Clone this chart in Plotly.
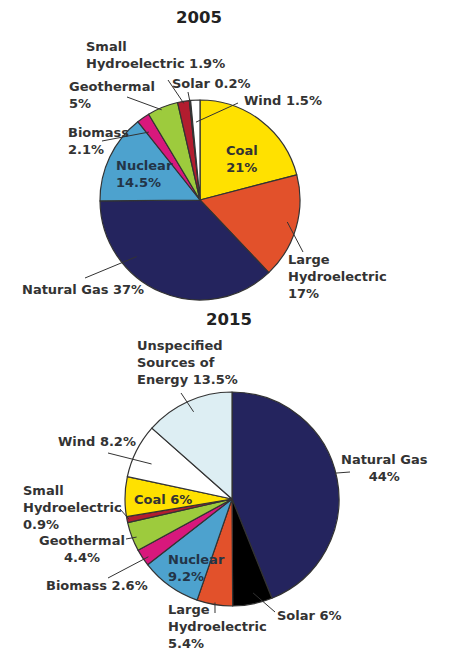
import math
import plotly.graph_objects as go

W, H = 450, 664
OFF = 8  # page body margin pushes the figure 8px right/down

# 2005 mix
labels_2005 = ["Coal", "Large Hydroelectric", "Natural Gas", "Nuclear", "Biomass",
               "Geothermal", "Small Hydroelectric", "Solar", "Wind"]
values_2005 = [21, 17, 37, 14.5, 2.1, 5, 1.9, 0.2, 1.5]

# 2015 mix
labels_2015 = ["Natural Gas", "Solar", "Large Hydroelectric", "Nuclear", "Biomass",
               "Geothermal", "Small Hydroelectric", "Coal", "Wind",
               "Unspecified Sources of Energy"]
values_2015 = [44, 6, 5.4, 9.2, 2.6, 4.4, 0.9, 6, 8.2, 13.5]

colors = {
    "Coal": "#FFE100",
    "Large Hydroelectric": "#E2512B",
    "Natural Gas": "#24245E",
    "Nuclear": "#4DA2CE",
    "Biomass": "#D8187C",
    "Geothermal": "#9DCB3D",
    "Small Hydroelectric": "#B21D2F",
    "Solar": "#000000",
    "Wind": "#FFFFFF",
    "Unspecified Sources of Energy": "#DDEEF3",
}

# pie geometry in screen pixels (centre x, centre y, radius)
pie1 = (200, 200, 100)
pie2 = (232, 499, 107)

TXT = "#333333"
FONT = "DejaVu Sans"


def px(x):
    return (x - OFF) / W


def py(y):
    return 1 - (y - OFF) / H


def dom(p):
    cx, cy, r = p
    return dict(x=[px(cx - r), px(cx + r)], y=[py(cy + r), py(cy - r)])


def slice_point(p, values, idx, t=0.5, rf=0.9):
    # point inside a slice: t = position across the slice, rf = fraction of radius
    cx, cy, r = p
    tot = sum(values)
    a0 = sum(values[:idx]) / tot * 360
    a1 = sum(values[:idx + 1]) / tot * 360
    a = math.radians(a0 + t * (a1 - a0))
    return cx + rf * r * math.sin(a), cy - rf * r * math.cos(a)


fig = go.Figure()
for p, labs, vals in [(pie1, labels_2005, values_2005), (pie2, labels_2015, values_2015)]:
    fig.add_trace(go.Pie(
        labels=labs, values=vals, sort=False, direction="clockwise", rotation=0,
        textinfo="none", hoverinfo="label+value", showlegend=False,
        marker=dict(colors=[colors[l] for l in labs], line=dict(color="#333333", width=1.2)),
        domain=dom(p),
    ))

shapes = []


def leader(p, values, idx, t, rf, x1, y1):
    x0, y0 = slice_point(p, values, idx, t, rf)
    shapes.append(dict(type="line", xref="paper", yref="paper",
                       x0=px(x0), y0=py(y0), x1=px(x1), y1=py(y1),
                       line=dict(color="#333333", width=1)))


# 2005 leaders
leader(pie1, values_2005, 6, 0.5, 0.98, 168, 80)
leader(pie1, values_2005, 7, 0.5, 0.97, 188, 92)
leader(pie1, values_2005, 5, 0.44, 0.98, 127, 97)
leader(pie1, values_2005, 8, 0.46, 0.78, 238, 103)
leader(pie1, values_2005, 4, 0.2, 0.85, 102, 141)
leader(pie1, values_2005, 1, 0.47, 0.9, 303, 252)
leader(pie1, values_2005, 2, 0.69, 0.85, 85, 278)

# 2015 leaders
leader(pie2, values_2015, 9, 0.51, 0.89, 181, 393)
leader(pie2, values_2015, 8, 0.39, 0.82, 108, 453)
leader(pie2, values_2015, 0, 0.48, 0.99, 350, 472)
leader(pie2, values_2015, 6, 0.5, 0.98, 120, 509)
leader(pie2, values_2015, 5, 0.43, 0.96, 126, 539)
leader(pie2, values_2015, 4, 0.35, 0.95, 108, 578)
leader(pie2, values_2015, 2, 0.5, 0.98, 215, 613)
leader(pie2, values_2015, 1, 0.43, 0.9, 275, 612)

annotations = []


def label(text, x, y, anchor="left", size=13, color=TXT):
    annotations.append(dict(
        text=text, x=px(x), y=py(y), xref="paper", yref="paper",
        xanchor=anchor, yanchor="middle", align=anchor,
        showarrow=False, borderpad=0,
        font=dict(family=FONT, size=size, color=color, weight="bold"),
    ))


label("2005", 199, 18, "center", 16.5, "#222222")
label("Small<br>Hydroelectric 1.9%", 85, 55)
label("Solar 0.2%", 171, 84)
label("Geothermal<br>5%", 68, 95)
label("Wind 1.5%", 243, 101)
label("Biomass<br>2.1%", 67, 140.5)
label("Coal<br>21%", 242, 159, "center")
label("Nuclear<br>14.5%", 115, 174, color="#233447")
label("Large<br>Hydroelectric<br>17%", 287, 276)
label("Natural Gas 37%", 21, 290)

label("2015", 229, 319, "center", 16.5, "#222222")
label("Unspecified<br>Sources of<br>Energy 13.5%", 136, 362)
label("Wind 8.2%", 57, 441)
label("Natural Gas<br>44%", 384, 468, "center")
label("Small<br>Hydroelectric<br>0.9%", 22, 507)
label("Coal 6%", 133, 499)
label("Geothermal<br>4.4%", 81.5, 549, "center")
label("Biomass 2.6%", 45, 585)
label("Nuclear<br>9.2%", 167, 567.5, color="#233447")
label("Large<br>Hydroelectric<br>5.4%", 167, 626)
label("Solar 6%", 276, 615)

fig.update_layout(
    width=W, height=H, margin=dict(l=0, r=0, t=0, b=0),
    paper_bgcolor="white", plot_bgcolor="white",
    shapes=shapes, annotations=annotations,
)

fig.write_html("out.html")
